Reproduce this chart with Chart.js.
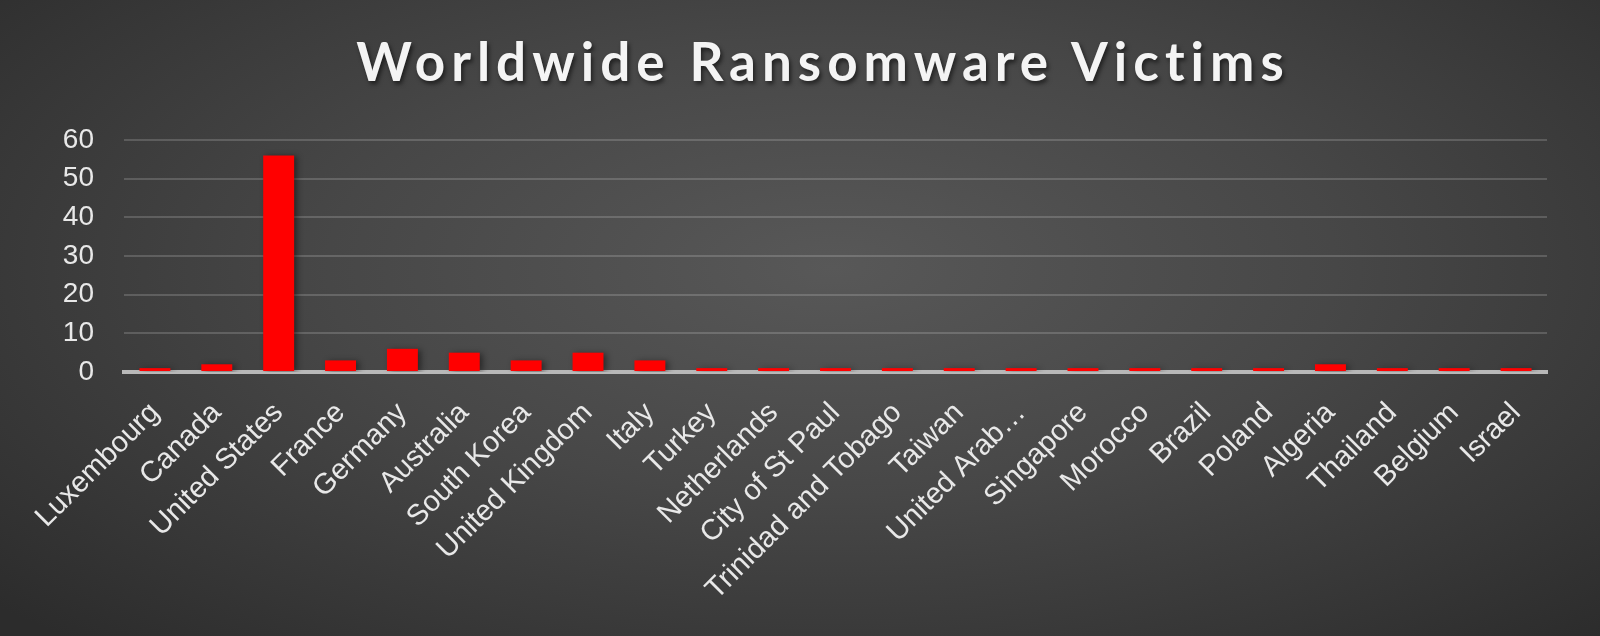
<!DOCTYPE html>
<html>
<head>
<meta charset="utf-8">
<script src="https://cdn.jsdelivr.net/npm/chart.js@4"></script>
<style>
  html, body {
    margin: 0;
    padding: 0;
    width: 1600px;
    height: 636px;
    overflow: hidden;
  }
  body {
    background: radial-gradient(ellipse 70% 80% at 52% 42%, #585858 0%, #474747 45%, #363636 80%, #2c2c2c 100%);
    position: relative;
  }
  h1 {
    position: absolute;
    top: 29px;
    left: 0;
    width: 1646px;
    margin: 0;
    text-align: center;
    font-family: Lato, sans-serif;
    font-weight: 700;
    font-size: 53px;
    letter-spacing: 6px;
    color: #f4f4f4;
    text-shadow: 2px 3px 4px rgba(0, 0, 0, 0.55);
  }
  #wrap {
    position: absolute;
    left: 0;
    top: 0;
    width: 1600px;
    height: 636px;
  }
</style>
</head>
<body>

<h1>Worldwide Ransomware Victims</h1>
<div id="wrap"><canvas id="grafico"></canvas></div>

<script>
// datos
const paises = [
    'Luxembourg', 'Canada', 'United States', 'France', 'Germany', 'Australia',
    'South Korea', 'United Kingdom', 'Italy', 'Turkey', 'Netherlands',
    'City of St Paul', 'Trinidad and Tobago', 'Taiwan', 'United Arab…',
    'Singapore', 'Morocco', 'Brazil', 'Poland', 'Algeria', 'Thailand',
    'Belgium', 'Israel'
];

const victimas = [1, 2, 56, 3, 6, 5, 3, 5, 3, 1, 1, 1, 1, 1, 1, 1, 1, 1, 1, 2, 1, 1, 1];

const ticksY = [0, 10, 20, 30, 40, 50, 60];

// sombra suave bajo las barras
const sombraBarras = {
    id: 'sombraBarras',
    beforeDatasetsDraw: (chart) => {
        const ctx = chart.ctx;
        ctx.save();
        ctx.shadowColor = 'rgba(0, 0, 0, 0.45)';
        ctx.shadowBlur = 6;
        ctx.shadowOffsetX = 3;
        ctx.shadowOffsetY = 1;
    },
    afterDatasetsDraw: (chart) => {
        chart.ctx.restore();
    }
};

document.addEventListener('DOMContentLoaded', () => {

    const canvas = document.getElementById('grafico');

    new Chart(canvas, {

        type: 'bar',

        data: {
            labels: paises,
            datasets: [{
                data: victimas,
                backgroundColor: '#ff0000',
                borderWidth: 0,
                barPercentage: 0.5,
                categoryPercentage: 1
            }]
        },

        options: {
            responsive: true,
            maintainAspectRatio: false,
            animation: false,
            layout: {
                padding: { left: 0, right: 53, top: 140, bottom: 0 }
            },
            plugins: {
                legend: { display: false },
                tooltip: { enabled: false }
            },
            scales: {
                x: {
                    grid: { display: false },
                    border: { color: '#b8b8b8', width: 4 },
                    ticks: {
                        color: '#e8e8e8',
                        font: { family: 'Liberation Sans', size: 29 },
                        minRotation: 45,
                        maxRotation: 45,
                        autoSkip: false,
                        padding: 16
                    },
                    afterFit: (escala) => { escala.height = 264; }
                },
                y: {
                    min: ticksY[0],
                    max: ticksY[ticksY.length - 1],
                    afterBuildTicks: (escala) => {
                        escala.ticks = ticksY.map(v => ({ value: v }));
                    },
                    grid: {
                        color: 'rgba(255,255,255,0.17)',
                        lineWidth: 2,
                        drawTicks: false
                    },
                    border: { display: false },
                    ticks: {
                        color: '#e8e8e8',
                        font: { family: 'Liberation Sans', size: 28 },
                        padding: 30
                    },
                    afterFit: (escala) => { escala.width = 124; }
                }
            }
        },

        plugins: [sombraBarras]
    });

});
</script>
</body>
</html>
